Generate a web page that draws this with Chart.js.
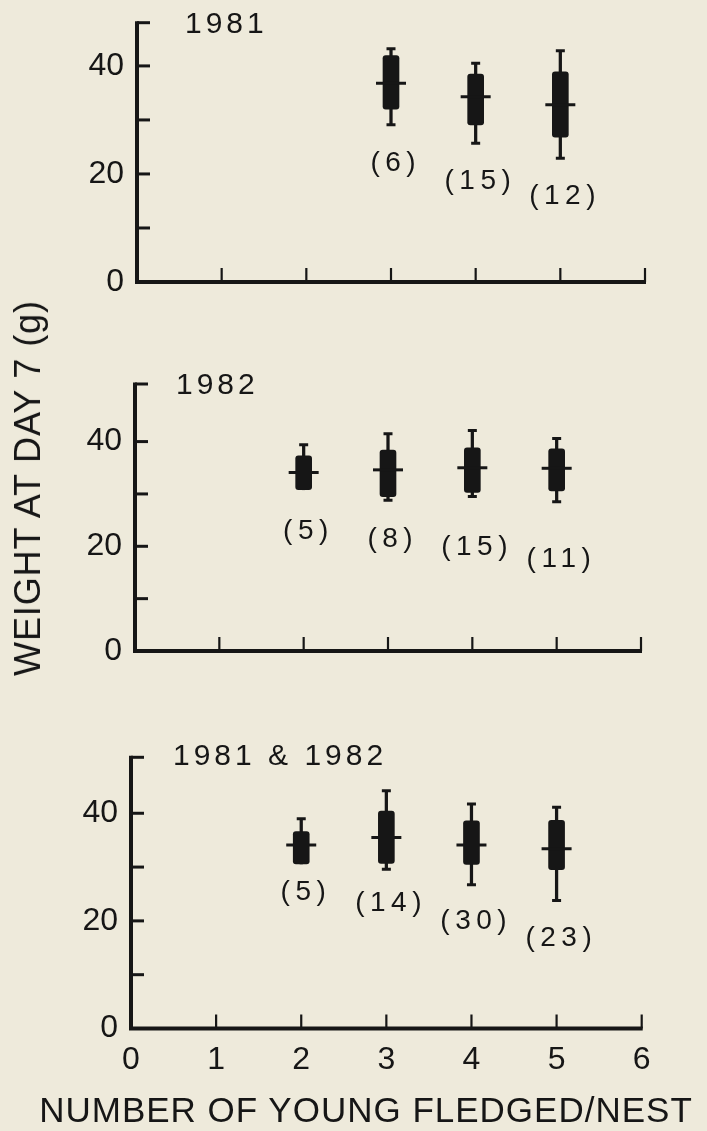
<!DOCTYPE html>
<html>
<head>
<meta charset="utf-8">
<script src="https://cdn.jsdelivr.net/npm/chart.js@4.4.0/dist/chart.umd.min.js"></script>
<style>
  html, body { margin: 0; padding: 0; background: #eeeadb; }
  body { width: 707px; height: 1131px; position: relative; overflow: hidden;
         font-family: 'Liberation Sans', Arial, sans-serif; color: #161616; }
  canvas { position: absolute; left: 0; }
  .ttl { position: absolute; white-space: nowrap; line-height: 1; }
</style>
</head>
<body>
<canvas id="c1" width="707" height="340" style="top:0px"></canvas>
<canvas id="c2" width="707" height="360" style="top:340px"></canvas>
<canvas id="c3" width="707" height="431" style="top:700px"></canvas>
<div class="ttl" id="ytitle" style="left:27.8px; top:487.5px; font-size:36px; letter-spacing:0.9px; transform:translate(-50%,-50%) rotate(-90deg);">WEIGHT AT DAY 7 (g)</div>
<div class="ttl" id="xtitle" style="left:366px; top:1109px; font-size:35px; letter-spacing:1px; transform:translate(-50%,-50%);">NUMBER OF YOUNG FLEDGED/NEST</div>
<script>
// ---------------- DATA ----------------
const categories = ['0', '1', '2', '3', '4', '5', '6'];
const yTickValues = [0, 10, 20, 30, 40];
const yLabelledTicks = [0, 20, 40];
const panelTitles = ['1981', '1982', '1981 & 1982'];

// 1981
const max1981 = [null, null, null, 43.2, 40.5, 42.8, null];
const q3_1981 = [null, null, null, 41.9, 38.5, 38.9, null];
const med1981 = [null, null, null, 36.8, 34.3, 32.8, null];
const q1_1981 = [null, null, null, 32.0, 29.1, 26.8, null];
const min1981 = [null, null, null, 29.1, 25.7, 22.9, null];
const n1981   = [null, null, null, 6, 15, 12, null];

// 1982
const max1982 = [null, null, 39.4, 41.5, 42.1, 40.6, null];
const q3_1982 = [null, null, 37.3, 38.4, 38.8, 38.6, null];
const med1982 = [null, null, 34.1, 34.6, 35.0, 34.9, null];
const q1_1982 = [null, null, 30.8, 29.5, 30.3, 30.6, null];
const min1982 = [null, null, 30.8, 28.8, 29.5, 28.5, null];
const n1982   = [null, null, 5, 8, 15, 11, null];

// 1981 & 1982
const maxBoth = [null, null, 39.0, 44.2, 41.7, 41.1, null];
const q3_Both = [null, null, 36.6, 40.4, 38.6, 38.7, null];
const medBoth = [null, null, 34.1, 35.5, 34.1, 33.4, null];
const q1_Both = [null, null, 30.6, 30.7, 30.5, 29.5, null];
const minBoth = [null, null, 30.6, 29.6, 26.7, 23.8, null];
const nBoth   = [null, null, 5, 14, 30, 23, null];

// ---------------- LAYOUT / STYLE ----------------
const INK = '#161616';
const FONT = "'Liberation Sans', Arial, sans-serif";
Chart.defaults.font.family = FONT;
Chart.defaults.color = INK;

const panels = [
  { id: 'c1', title: panelTitles[0], max: max1981, q3: q3_1981, med: med1981, q1: q1_1981, min: min1981, n: n1981,
    padTop: 22.7, left: 137, padRight: 62, xHeight: 58, yMax: 48, showX: false, titleDx: 48, titleDy: 2,
    labelGap: [0, 0, 0, 38, 38, 38, 0] },
  { id: 'c2', title: panelTitles[1], max: max1982, q3: q3_1982, med: med1982, q1: q1_1982, min: min1982, n: n1982,
    padTop: 44, left: 135, padRight: 66, xHeight: 49, yMax: 51, showX: false, titleDx: 41, titleDy: 2,
    labelGap: [0, 0, 42, 39, 51, 57, 0] },
  { id: 'c3', title: panelTitles[2], max: maxBoth, q3: q3_Both, med: medBoth, q1: q1_Both, min: minBoth, n: nBoth,
    padTop: 57.3, left: 131, padRight: 65.3, xHeight: 102.5, yMax: 50.4, showX: true, titleDx: 42, titleDy: -1,
    labelGap: [0, 0, 28.5, 34, 36, 37.5, 0] }
];

const framePlugin = {
  id: 'frame',
  afterDatasetsDraw(chart, args, o) {
    const { ctx, chartArea: a, scales: { x, y } } = chart;
    const p = o.panel;
    ctx.save();
    ctx.strokeStyle = INK;
    ctx.fillStyle = INK;
    ctx.lineCap = 'butt';
    // y tick marks (inward)
    ctx.lineWidth = 3;
    y.ticks.forEach(t => {
      const py = y.getPixelForValue(t.value);
      ctx.beginPath(); ctx.moveTo(a.left, py); ctx.lineTo(a.left + 13, py); ctx.stroke();
    });
    // x tick marks (inward)
    ctx.lineWidth = 2.2;
    categories.forEach((c, i) => {
      if (i === 0) return;
      const px = x.getPixelForValue(i);
      ctx.beginPath(); ctx.moveTo(px, a.bottom); ctx.lineTo(px, a.bottom - 14); ctx.stroke();
    });
    // axis lines
    ctx.lineWidth = 4;
    ctx.lineJoin = 'miter';
    ctx.beginPath();
    ctx.moveTo(a.left, a.top - 1.5);
    ctx.lineTo(a.left, a.bottom);
    ctx.lineTo(x.getPixelForValue(categories.length - 1) + 1, a.bottom);
    ctx.stroke();
    // count labels
    ctx.font = '28px ' + FONT;
    ctx.letterSpacing = '5.5px';
    ctx.textAlign = 'center';
    ctx.textBaseline = 'middle';
    p.n.forEach((n, i) => {
      if (n == null) return;
      const px = x.getPixelForValue(i) + 2 + 2.75;
      const py = y.getPixelForValue(p.min[i]) + p.labelGap[i];
      ctx.fillText('(' + n + ')', px, py);
    });
    // panel title
    ctx.font = '30px ' + FONT;
    ctx.letterSpacing = '4px';
    ctx.textAlign = 'left';
    ctx.fillText(p.title, a.left + p.titleDx, a.top + p.titleDy);
    ctx.letterSpacing = '0px';
    ctx.restore();
  }
};

function build(p) {
  const whisker = categories.map((c, i) => p.max[i] == null ? null : [p.min[i], p.max[i]]);
  const box = categories.map((c, i) => p.q3[i] == null ? null : [p.q1[i], p.q3[i]]);
  const lowCap = categories.map((c, i) => (p.min[i] != null && p.min[i] < p.q1[i]) ? p.min[i] : null);
  new Chart(document.getElementById(p.id), {
    type: 'bar',
    data: {
      labels: categories,
      datasets: [
        { type: 'bar', data: whisker, backgroundColor: INK, barThickness: 2.6, grouped: false, order: 5 },
        { type: 'bar', data: box, backgroundColor: INK, barThickness: 16, borderRadius: 3,
          borderSkipped: false, grouped: false, order: 4 },
        { type: 'line', data: p.med, showLine: false, pointStyle: 'line', pointRadius: 15,
          pointBorderWidth: 3, borderColor: INK, backgroundColor: INK, order: 1 },
        { type: 'line', data: p.max, showLine: false, pointStyle: 'line', pointRadius: 4.5,
          pointBorderWidth: 3, borderColor: INK, backgroundColor: INK, order: 2 },
        { type: 'line', data: lowCap, showLine: false, pointStyle: 'line', pointRadius: 4.5,
          pointBorderWidth: 3, borderColor: INK, backgroundColor: INK, order: 2 }
      ]
    },
    options: {
      responsive: false,
      animation: false,
      events: [],
      layout: { padding: { top: p.padTop, right: p.padRight, left: 0, bottom: 0 } },
      plugins: { legend: { display: false }, tooltip: { enabled: false }, frame: { panel: p } },
      scales: {
        x: {
          type: 'category',
          offset: false,
          grid: { display: false, drawTicks: false },
          border: { display: false },
          ticks: { display: p.showX, font: { size: 32 }, color: INK, padding: 12, maxRotation: 0, autoSkip: false },
          afterFit: s => { s.height = p.xHeight; s.paddingLeft = 0; s.paddingRight = 0; }
        },
        y: {
          min: 0,
          max: p.yMax,
          grid: { display: false, drawTicks: false },
          border: { display: false },
          afterBuildTicks: s => {
            s.ticks = yTickValues.map(v => ({ value: v })).concat([{ value: s.max }]);
          },
          ticks: {
            font: { size: 32 },
            color: INK,
            padding: 13,
            callback: v => yLabelledTicks.includes(v) ? String(v) : ''
          },
          afterFit: s => { s.width = p.left; s.paddingTop = 0; s.paddingBottom = 0; }
        }
      }
    },
    plugins: [framePlugin]
  });
}

panels.forEach(build);
</script>
</body>
</html>
